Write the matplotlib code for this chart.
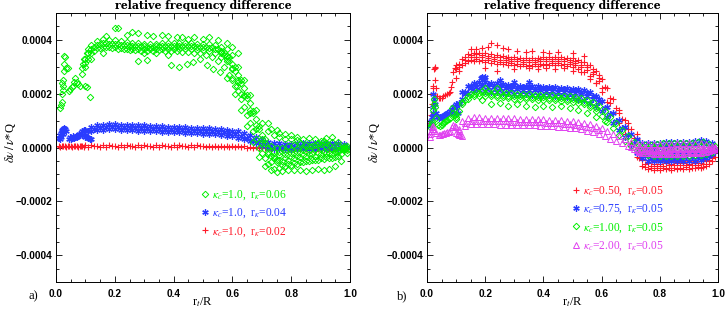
import numpy as np
import matplotlib.pyplot as plt
from matplotlib.lines import Line2D

plt.rcParams['mathtext.fontset'] = 'stix'

# two interleaved sets of mode positions r_t/R
grid_a = [0.10, 0.12, 0.14, 0.16, 0.18, 0.20, 0.22, 0.24, 0.26, 0.28,
          0.30, 0.32, 0.34, 0.36, 0.38, 0.40, 0.42, 0.44, 0.46, 0.48,
          0.50, 0.52, 0.54, 0.56, 0.58, 0.60, 0.62, 0.64, 0.66, 0.68,
          0.70, 0.72, 0.74, 0.76, 0.78, 0.80, 0.82, 0.84, 0.86, 0.88,
          0.90, 0.92, 0.94, 0.96, 0.98]
grid_b = [0.11, 0.13, 0.15, 0.17, 0.19, 0.21, 0.23, 0.25, 0.27, 0.29,
          0.31, 0.33, 0.35, 0.37, 0.39, 0.41, 0.43, 0.45, 0.47, 0.49,
          0.51, 0.53, 0.55, 0.57, 0.59, 0.61, 0.63, 0.65, 0.67, 0.69,
          0.71, 0.73, 0.75, 0.77, 0.79, 0.81, 0.83, 0.85, 0.87, 0.89,
          0.91, 0.93, 0.95, 0.97, 0.99]

# ---------------- panel a (values in units of 1e-4) ----------------
# kappa=1.0, r=0.06 (green)
ga_row1 = [3.3, 3.8, 3.95, 4.05, 4.0, 4.0, 3.95, 3.92, 3.9, 3.88,
           3.86, 3.85, 3.86, 3.88, 3.9, 3.9, 3.88, 3.87, 3.87, 3.86,
           3.85, 3.83, 3.8, 3.75, 3.65, 3.45, 3.0, 2.5, 1.95, 1.4,
           0.9, 0.6, 0.45, 0.38, 0.32, 0.3, 0.28, 0.3, 0.35, 0.3,
           0.25, 0.35, 0.4, 0.2, 0.05]
ga_row2 = [3.5, 3.75, 3.85, 3.88, 3.86, 3.84, 3.8, 3.78, 3.78, 3.76,
           3.75, 3.75, 3.76, 3.78, 3.78, 3.77, 3.76, 3.76, 3.76, 3.75,
           3.74, 3.72, 3.66, 3.55, 3.35, 3.0, 2.5, 1.95, 1.35, 0.8,
           0.3, 0.05, 0.0, 0.0, 0.05, 0.1, 0.15, 0.1, 0.05, 0.15,
           0.25, 0.1, -0.05, 0.0, 0.05]
ga_row3 = [3.0, 3.5, 3.7, 3.75, 3.75, 3.72, 3.7, 3.68, 3.68, 3.66,
           3.65, 3.65, 3.66, 3.68, 3.68, 3.67, 3.66, 3.65, 3.65, 3.64,
           3.62, 3.58, 3.5, 3.38, 3.2, 2.9, 2.45, 1.9, 1.3, 0.7,
           0.15, -0.25, -0.3, -0.28, -0.25, -0.2, -0.15, -0.1, -0.1, -0.05,
           0.0, 0.05, -0.05, -0.1, 0.0]
ga_row4 = [3.3, 3.6, 3.7, 3.72, 3.7, 3.68, 3.66, 3.64, 3.62, 3.6,
           3.6, 3.6, 3.62, 3.6, 3.6, 3.58, 3.56, 3.55, 3.52, 3.5,
           3.45, 3.35, 3.2, 3.0, 2.7, 2.3, 1.8, 1.2, 0.6, 0.0,
           -0.4, -0.55, -0.55, -0.5, -0.45, -0.4, -0.35, -0.3, -0.25, -0.2,
           -0.15, -0.2, -0.15, -0.05, 0.0]
ga_row5 = [2.6, 2.1, 1.5, 0.9, 0.3, -0.2, -0.6, -0.8, -0.75, -0.7,
           -0.65, -0.6, -0.55, -0.5, -0.45, -0.4, -0.35, -0.4, -0.3, -0.1]
ga_row6 = [2.0, 1.4, 0.8, 0.2, -0.35, -0.7, -0.85, -0.9, -0.88, -0.85,
           -0.85, -0.82, -0.88, -0.85, -0.8, -0.85, -0.8, -0.7, -0.5, -0.2]
ga_row7 = [3.15, 3.65, 3.82, 3.88, 3.86, 3.84, 3.82, 3.8, 3.79, 3.77,
           3.76, 3.75, 3.76, 3.78, 3.79, 3.78, 3.77, 3.76, 3.76, 3.75,
           3.74, 3.71, 3.65, 3.56, 3.42]
ga_row8 = [3.6, 3.4, 3.1, 2.7, 2.2, 1.65, 1.05, 0.45, 0.0, -0.15,
           -0.15, -0.12, -0.08, -0.05, 0.0, 0.05, 0.1, 0.12, 0.15, 0.2,
           0.1, 0.0]
ga_row9 = [3.45, 3.2, 2.85, 2.4, 1.85, 1.3, 0.7, 0.15, -0.3, -0.45,
           -0.65, -0.62, -0.58, -0.55, -0.5, -0.48, -0.45, -0.42, -0.4, -0.35,
           -0.25, -0.1]
ga_row10 = [3.5, 3.3, 2.95, 2.5, 1.95, 1.4, 0.85, 0.3, -0.15, -0.4,
            -0.45, -0.4, -0.35, -0.3, -0.28, -0.25, -0.3, -0.25, -0.2, -0.25,
            -0.15, -0.05]
ga_start_x = [0.014, 0.017, 0.020, 0.021, 0.024, 0.024, 0.025, 0.027, 0.028, 0.030,
              0.034, 0.040, 0.048, 0.054, 0.058, 0.065, 0.070, 0.075, 0.082, 0.088,
              0.090, 0.093, 0.096, 0.099, 0.106, 0.116, 0.105, 0.110, 0.120, 0.020,
              0.028, 0.044, 0.062]
ga_start_y = [1.47, 1.58, 1.69, 2.0, 2.13, 2.3, 2.5, 2.86, 3.1, 3.35,
              2.97, 2.97, 2.17, 2.24, 2.3, 2.57, 2.42, 2.35, 2.3, 2.75,
              2.94, 3.1, 3.3, 2.28, 2.24, 1.87, 3.5, 3.67, 3.3, 2.4,
              3.4, 2.1, 2.45]
ga_out_x = [0.17, 0.20, 0.21, 0.24, 0.26, 0.28, 0.31, 0.33, 0.36, 0.38,
            0.41, 0.43, 0.45, 0.47, 0.50, 0.52, 0.55, 0.58, 0.60, 0.62,
            0.16, 0.28, 0.30, 0.31, 0.34, 0.38, 0.39, 0.42, 0.445, 0.466,
            0.49, 0.513, 0.535, 0.558, 0.58, 0.60, 0.615, 0.63,
            0.72, 0.73, 0.75, 0.76, 0.78, 0.80, 0.82]
ga_out_y = [4.15, 4.45, 4.45, 4.2, 4.3, 4.25, 4.2, 4.15, 4.2, 4.15,
            4.1, 4.1, 4.05, 4.1, 4.05, 4.1, 4.0, 3.9, 3.75, 3.5,
            3.5, 3.23, 3.5, 3.26, 3.5, 3.45, 3.05, 3.0, 3.1, 3.16,
            3.3, 3.05, 2.93, 2.8, 2.6, 2.5, 2.3, 2.0,
            0.9, 0.7, 0.65, 0.55, 0.5, 0.45, 0.4]

# kappa=1.0, r=0.04 (blue)
ba_row1 = [0.65, 0.78, 0.83, 0.85, 0.86, 0.86, 0.85, 0.84, 0.84, 0.83,
           0.82, 0.81, 0.8, 0.79, 0.78, 0.77, 0.76, 0.75, 0.74, 0.73,
           0.72, 0.71, 0.7, 0.68, 0.66, 0.63, 0.6, 0.55, 0.48, 0.4,
           0.3, 0.22, 0.17, 0.15, 0.14, 0.14, 0.15, 0.15, 0.16, 0.16,
           0.17, 0.17, 0.16, 0.15, 0.12]
ba_row2 = [0.6, 0.7, 0.74, 0.76, 0.76, 0.76, 0.75, 0.74, 0.73, 0.72,
           0.71, 0.7, 0.69, 0.68, 0.67, 0.66, 0.65, 0.64, 0.63, 0.62,
           0.61, 0.6, 0.58, 0.56, 0.53, 0.49, 0.44, 0.37, 0.29, 0.2,
           0.12, 0.06, 0.03, 0.02, 0.02, 0.03, 0.04, 0.04, 0.05, 0.05,
           0.06, 0.05, 0.05, 0.03, 0.02]
ba_row3 = [0.45, 0.6, 0.64, 0.66, 0.67, 0.67, 0.66, 0.65, 0.64, 0.63,
           0.62, 0.61, 0.6, 0.59, 0.58, 0.57, 0.56, 0.55, 0.54, 0.53,
           0.52, 0.51, 0.49, 0.47, 0.44, 0.41, 0.36, 0.3, 0.23, 0.15,
           0.06, -0.02, -0.06, -0.07, -0.07, -0.06, -0.05, -0.05, -0.04, -0.04,
           -0.03, -0.04, -0.05, -0.06, -0.05]
ba_start_x = [0.010, 0.012, 0.013, 0.016, 0.018, 0.019, 0.022, 0.024, 0.025, 0.028,
              0.031, 0.034, 0.045, 0.048, 0.050, 0.055, 0.058, 0.060, 0.065, 0.068,
              0.070, 0.075, 0.078, 0.080, 0.085, 0.088, 0.090, 0.095, 0.100, 0.105,
              0.110, 0.115, 0.120]
ba_start_y = [0.35, 0.3, 0.45, 0.55, 0.4, 0.6, 0.65, 0.5, 0.7, 0.72,
              0.68, 0.6, 0.3, 0.4, 0.33, 0.35, 0.42, 0.36, 0.38, 0.44,
              0.4, 0.42, 0.5, 0.45, 0.55, 0.48, 0.62, 0.66, 0.4, 0.38,
              0.35, 0.33, 0.3]

# kappa=1.0, r=0.02 (red)
ra_row1 = [0.08, 0.08, 0.07, 0.08, 0.08, 0.07, 0.08, 0.08, 0.07, 0.08,
           0.08, 0.07, 0.08, 0.08, 0.07, 0.08, 0.08, 0.07, 0.08, 0.08,
           0.07, 0.07, 0.07, 0.06, 0.06, 0.05, 0.05, 0.04, 0.03, 0.02,
           0.0, -0.02, -0.03, -0.03, -0.03, -0.03, -0.03, -0.03, -0.03, -0.03,
           -0.03, -0.03, -0.03, -0.03, -0.03]
ra_row2 = [0.03, 0.04, 0.03, 0.03, 0.04, 0.03, 0.03, 0.04, 0.03, 0.03,
           0.04, 0.03, 0.03, 0.04, 0.03, 0.03, 0.04, 0.03, 0.03, 0.04,
           0.03, 0.03, 0.02, 0.02, 0.02, 0.01, 0.01, 0.0, -0.01, -0.02,
           -0.03, -0.05, -0.06, -0.06, -0.06, -0.06, -0.06, -0.06, -0.06, -0.06,
           -0.06, -0.06, -0.06, -0.06, -0.06]
ra_start_x = [0.010, 0.015, 0.020, 0.025, 0.030, 0.035, 0.040, 0.045, 0.050,
              0.055, 0.060, 0.065, 0.070, 0.075, 0.080, 0.085, 0.090, 0.095]
ra_start_y = [0.06, 0.03, 0.07, 0.04, 0.06, 0.03, 0.07, 0.04, 0.06,
              0.03, 0.07, 0.04, 0.06, 0.03, 0.07, 0.04, 0.06, 0.03]

# ---------------- panel b (values in units of 1e-4) ----------------
# kappa=0.50 (red)
rb_row1 = [2.9, 3.3, 3.48, 3.52, 3.52, 3.5, 3.46, 3.43, 3.41, 3.38,
           3.35, 3.33, 3.32, 3.32, 3.34, 3.36, 3.37, 3.37, 3.36, 3.34,
           3.31, 3.26, 3.18, 3.05, 2.85, 2.56, 2.2, 1.8, 1.4, 1.02,
           0.7, 0.3, -0.2, -0.45, -0.5, -0.5, -0.5, -0.5, -0.5, -0.5,
           -0.5, -0.5, -0.5, -0.45, -0.3]
rb_row2 = [3.0, 3.25, 3.35, 3.37, 3.36, 3.34, 3.3, 3.27, 3.25, 3.22,
           3.2, 3.18, 3.17, 3.18, 3.2, 3.21, 3.22, 3.22, 3.2, 3.18,
           3.14, 3.08, 2.98, 2.82, 2.58, 2.25, 1.85, 1.45, 1.05, 0.7,
           0.35, -0.2, -0.6, -0.68, -0.68, -0.68, -0.66, -0.66, -0.65, -0.66,
           -0.66, -0.65, -0.6, -0.45, -0.2]
rb_row3 = [2.6, 3.05, 3.2, 3.22, 3.21, 3.19, 3.15, 3.12, 3.1, 3.07,
           3.05, 3.03, 3.02, 3.02, 3.04, 3.06, 3.07, 3.07, 3.06, 3.04,
           3.0, 2.93, 2.82, 2.65, 2.4, 2.06, 1.68, 1.28, 0.9, 0.52,
           0.15, -0.35, -0.7, -0.8, -0.82, -0.82, -0.8, -0.82, -0.8, -0.8,
           -0.8, -0.78, -0.76, -0.7, -0.5]
rb_row4 = [3.1, 3.35, 3.45, 3.46, 3.45, 3.42, 3.38, 3.35, 3.33, 3.3,
           3.28, 3.26, 3.25, 3.26, 3.28, 3.29, 3.3, 3.3, 3.28, 3.26,
           3.22, 3.16, 3.06, 2.9, 2.68]
rb_row5 = [2.85, 3.15, 3.25, 3.28, 3.27, 3.25, 3.21, 3.18, 3.16, 3.13,
           3.11, 3.09, 3.08, 3.09, 3.11, 3.12, 3.13, 3.13, 3.11, 3.09,
           3.05, 2.98, 2.88, 2.72, 2.48]
rb_flat1 = [-0.4, -0.72, -0.78, -0.76, -0.76, -0.75, -0.76, -0.75, -0.74, -0.75,
            -0.74, -0.72, -0.6, -0.35]
rb_flat2 = [-0.45, -0.58, -0.6, -0.6, -0.58, -0.6, -0.58, -0.58, -0.6, -0.58,
            -0.56, -0.5, -0.4]
rb_start_x = [0.012, 0.015, 0.018, 0.020, 0.021, 0.022, 0.024, 0.026, 0.027, 0.028,
              0.030, 0.035, 0.040, 0.045, 0.050, 0.055, 0.062, 0.068, 0.074, 0.079,
              0.083, 0.086, 0.090, 0.095, 0.100]
rb_start_y = [0.9, 1.2, 1.6, 2.0, 2.3, 2.2, 2.9, 3.0, 2.94, 2.5,
              2.2, 1.9, 1.85, 1.83, 1.85, 1.9, 1.94, 2.0, 2.02, 2.05,
              2.25, 2.42, 2.8, 2.95, 3.05]
rb_out_x = [0.15, 0.17, 0.19, 0.21, 0.22, 0.24, 0.26, 0.28, 0.31, 0.34,
            0.36, 0.40, 0.42, 0.45, 0.50, 0.54,
            0.20, 0.24, 0.30, 0.35, 0.38, 0.41, 0.44, 0.47, 0.50, 0.53,
            0.56, 0.58, 0.60, 0.63, 0.66, 0.69, 0.72]
rb_out_y = [3.65, 3.65, 3.7, 3.75, 3.9, 3.8, 3.7, 3.65, 3.6, 3.55,
            3.6, 3.55, 3.5, 3.55, 3.5, 3.4,
            2.95, 2.85, 2.9, 2.95, 2.9, 2.95, 2.9, 2.95, 2.85, 2.8,
            2.55, 2.4, 2.2, 1.65, 1.3, 0.9, 0.5]

# kappa=0.75 (blue)
bb_row1 = [1.6, 2.05, 2.3, 2.4, 2.42, 2.42, 2.4, 2.38, 2.36, 2.34,
           2.32, 2.3, 2.29, 2.28, 2.27, 2.26, 2.25, 2.24, 2.22, 2.2,
           2.18, 2.16, 2.12, 2.06, 1.92, 1.74, 1.52, 1.28, 1.02, 0.76,
           0.5, 0.3, 0.18, 0.15, 0.15, 0.18, 0.2, 0.2, 0.2, 0.22,
           0.22, 0.25, 0.28, 0.25, 0.15]
bb_row2 = [1.6, 2.0, 2.2, 2.26, 2.27, 2.26, 2.24, 2.22, 2.2, 2.18,
           2.16, 2.15, 2.14, 2.13, 2.12, 2.11, 2.1, 2.08, 2.06, 2.04,
           2.02, 1.98, 1.92, 1.82, 1.68, 1.48, 1.25, 1.0, 0.72, 0.45,
           0.15, -0.1, -0.2, -0.22, -0.22, -0.2, -0.2, -0.2, -0.2, -0.18,
           -0.18, -0.15, -0.15, -0.15, -0.05]
bb_row3 = [1.3, 1.8, 2.02, 2.1, 2.12, 2.1, 2.08, 2.06, 2.04, 2.02,
           2.0, 1.99, 1.98, 1.97, 1.96, 1.95, 1.94, 1.92, 1.9, 1.88,
           1.86, 1.82, 1.76, 1.67, 1.54, 1.36, 1.14, 0.9, 0.65, 0.38,
           0.1, -0.2, -0.4, -0.5, -0.52, -0.52, -0.52, -0.52, -0.52, -0.5,
           -0.5, -0.5, -0.48, -0.4, -0.25]
bb_row4 = [1.65, 2.08, 2.3, 2.36, 2.37, 2.36, 2.34, 2.32, 2.3, 2.28,
           2.26, 2.25, 2.24, 2.23, 2.22, 2.21, 2.2, 2.18, 2.16, 2.14,
           2.12, 2.08, 2.02, 1.93, 1.8]
bb_flat1 = [0.0, -0.3, -0.38, -0.4, -0.4, -0.38, -0.38, -0.38, -0.36, -0.36,
            -0.35, -0.34, -0.3, -0.12]
bb_flat2 = [0.0, 0.0, 0.02, 0.05, 0.05, 0.05, 0.08, 0.08, 0.1, 0.12,
            0.15, 0.12, 0.05]
bb_start_x = [0.012, 0.015, 0.017, 0.019, 0.021, 0.021, 0.024, 0.027, 0.030, 0.035,
              0.040, 0.045, 0.050, 0.055, 0.060, 0.065, 0.069, 0.074, 0.078, 0.082,
              0.086, 0.090, 0.095, 0.100, 0.105]
bb_start_y = [0.8, 1.0, 1.14, 1.3, 1.5, 2.0, 1.8, 1.6, 1.3, 1.15,
              1.1, 1.14, 1.15, 1.18, 1.2, 1.25, 1.28, 1.3, 1.35, 1.3,
              1.4, 1.5, 1.55, 1.45, 1.3]
bb_out_x = [0.185, 0.19, 0.195, 0.20, 0.30, 0.35, 0.25]
bb_out_y = [2.6, 2.63, 2.6, 2.62, 2.45, 2.42, 2.5]

# kappa=1.00 (green)
gb_row1 = [1.35, 1.75, 1.98, 2.08, 2.1, 2.1, 2.08, 2.06, 2.04, 2.02,
           2.0, 1.99, 1.98, 1.97, 1.96, 1.95, 1.94, 1.93, 1.92, 1.9,
           1.88, 1.84, 1.78, 1.68, 1.54, 1.36, 1.14, 0.9, 0.65, 0.42,
           0.22, 0.1, 0.08, 0.1, 0.12, 0.15, 0.15, 0.15, 0.18, 0.18,
           0.18, 0.2, 0.2, 0.12, 0.05]
gb_row2 = [1.15, 1.6, 1.82, 1.9, 1.92, 1.92, 1.9, 1.88, 1.86, 1.84,
           1.82, 1.81, 1.8, 1.79, 1.78, 1.77, 1.76, 1.75, 1.74, 1.72,
           1.7, 1.66, 1.6, 1.5, 1.36, 1.18, 0.96, 0.72, 0.48, 0.25,
           0.05, -0.1, -0.22, -0.28, -0.3, -0.3, -0.3, -0.3, -0.3, -0.3,
           -0.3, -0.28, -0.28, -0.25, -0.15]
gb_row3 = [1.25, 1.68, 1.9, 1.99, 2.01, 2.01, 1.99, 1.97, 1.95, 1.93,
           1.91, 1.9, 1.89, 1.88, 1.87, 1.86, 1.85, 1.84, 1.83, 1.81,
           1.79, 1.75, 1.69, 1.59, 1.45]
gb_flat1 = [-0.05, -0.15, -0.18, -0.18, -0.18, -0.17, -0.17, -0.16, -0.16, -0.15,
            -0.15, -0.14, -0.12, -0.05]
gb_flat2 = [-0.05, -0.05, -0.02, 0.0, 0.02, 0.02, 0.04, 0.04, 0.05, 0.06,
            0.06, 0.04, 0.02]
gb_start_x = [0.012, 0.015, 0.017, 0.018, 0.021, 0.023, 0.025, 0.028, 0.032, 0.038,
              0.045, 0.050, 0.055, 0.060, 0.065, 0.070, 0.075, 0.080, 0.086, 0.090,
              0.095, 0.100]
gb_start_y = [0.75, 0.85, 0.95, 0.86, 1.4, 1.6, 1.8, 1.5, 1.1, 0.85,
              0.8, 0.85, 0.9, 0.95, 1.0, 1.02, 1.05, 1.1, 1.47, 1.3,
              1.2, 1.05]
gb_out_x = [0.19, 0.22, 0.25, 0.28, 0.31, 0.34, 0.37, 0.40, 0.43, 0.46,
            0.49, 0.52, 0.55, 0.58, 0.61, 0.20, 0.24]
gb_out_y = [1.75, 1.6, 1.65, 1.55, 1.6, 1.55, 1.5, 1.55, 1.5, 1.55,
            1.45, 1.4, 1.3, 1.15, 1.0, 2.2, 2.2]

# kappa=2.00 (magenta)
mb_row1 = [0.75, 0.98, 1.1, 1.12, 1.12, 1.1, 1.1, 1.09, 1.09, 1.08,
           1.08, 1.07, 1.07, 1.06, 1.05, 1.05, 1.04, 1.03, 1.02, 1.0,
           0.98, 0.95, 0.91, 0.86, 0.8, 0.72, 0.6, 0.5, 0.42, 0.32,
           0.2, 0.12, 0.12, 0.12, 0.12, 0.12, 0.14, 0.14, 0.15, 0.15,
           0.15, 0.16, 0.16, 0.12, 0.06]
mb_row2 = [0.62, 0.8, 0.88, 0.88, 0.87, 0.86, 0.86, 0.85, 0.85, 0.84,
           0.84, 0.83, 0.83, 0.82, 0.81, 0.8, 0.79, 0.78, 0.76, 0.74,
           0.71, 0.67, 0.63, 0.59, 0.52, 0.42, 0.32, 0.24, 0.16, 0.06,
           -0.04, -0.12, -0.14, -0.14, -0.14, -0.14, -0.13, -0.13, -0.13, -0.13,
           -0.12, -0.12, -0.1, -0.06, 0.0]
mb_row3 = [0.02, -0.1, -0.2, -0.22, -0.24, -0.24, -0.24, -0.24, -0.24, -0.24,
           -0.22, -0.22, -0.2, -0.15, -0.08]
mb_row4 = [0.7, 0.9, 0.99, 1.0, 1.0, 0.98, 0.98, 0.97, 0.97, 0.96,
           0.96, 0.95, 0.95, 0.94, 0.93, 0.92, 0.91, 0.9, 0.89, 0.87,
           0.85, 0.81, 0.77, 0.72, 0.66]
mb_flat1 = [0.05, -0.02, -0.04, -0.04, -0.04, -0.03, -0.03, -0.03, -0.02, -0.02,
            -0.02, -0.01, 0.0, 0.02]
mb_flat2 = [-0.05, -0.08, -0.08, -0.08, -0.08, -0.07, -0.07, -0.07, -0.06, -0.06,
            -0.05, -0.04, -0.02]
mb_flat3 = [-0.15, -0.22, -0.2, -0.2, -0.2, -0.2, -0.2, -0.19, -0.19, -0.18,
            -0.17, -0.16, -0.12, -0.05]
mb_start_x = [0.010, 0.012, 0.015, 0.017, 0.020, 0.022, 0.025, 0.030, 0.040, 0.045,
              0.050, 0.055, 0.060, 0.065, 0.070, 0.075, 0.080, 0.085, 0.090, 0.095,
              0.100, 0.105, 0.110, 0.113, 0.120]
mb_start_y = [0.4, 0.5, 0.6, 0.75, 0.8, 0.7, 0.6, 0.55, 0.45, 0.48,
              0.5, 0.52, 0.53, 0.55, 0.56, 0.57, 0.6, 0.75, 0.85, 0.8,
              0.55, 0.5, 0.47, 0.48, 0.42]

labels_a = [r'$\kappa_c$=1.0,  r$_\kappa$=0.06',
            r'$\kappa_c$=1.0,  r$_\kappa$=0.04',
            r'$\kappa_c$=1.0,  r$_\kappa$=0.02']
labels_b = [r'$\kappa_c$=0.50,  r$_\kappa$=0.05',
            r'$\kappa_c$=0.75,  r$_\kappa$=0.05',
            r'$\kappa_c$=1.00,  r$_\kappa$=0.05',
            r'$\kappa_c$=2.00,  r$_\kappa$=0.05']

GREEN = '#00f000'
BLUE = '#2a3cff'
RED = '#ff1a2a'
MAGENTA = '#e040f0'

STYLE = {
    'D': dict(marker='D', ms=3.3, mfc='none', mew=0.7),
    '*': dict(marker=(6, 2, 0), ms=4.6, mew=0.9),
    '+': dict(marker='+', ms=4.8, mew=0.8),
    '^': dict(marker='^', ms=3.9, mfc='none', mew=0.7),
}


def draw(ax, branches, color, mk):
    for x, y in branches:
        ax.plot(np.array(x), np.array(y) * 1e-4, linestyle='none',
                color=color, mec=color, **STYLE[mk])


def setup(ax):
    ax.set_xlim(0.0, 1.0)
    ax.set_ylim(-0.0005, 0.0005)
    ax.set_xticks([0.0, 0.2, 0.4, 0.6, 0.8, 1.0])
    ax.set_xticks(np.arange(0, 1.0001, 0.05), minor=True)
    ax.set_yticks([-0.0004, -0.0002, 0.0, 0.0002, 0.0004])
    ax.set_yticks(np.arange(-0.0005, 0.00050001, 0.00005), minor=True)
    ax.set_xticklabels(['0.0', '0.2', '0.4', '0.6', '0.8', '1.0'])
    ax.set_yticklabels(['\u22120.0004', '\u22120.0002', '0.0000', '0.0002', '0.0004'])
    ax.tick_params(which='both', direction='in', top=True, right=True, width=0.6)
    ax.tick_params(which='major', length=4.5)
    ax.tick_params(which='minor', length=2.2)
    ax.tick_params(axis='x', pad=5)
    ax.tick_params(axis='y', pad=2.5)
    for lab in ax.get_xticklabels() + ax.get_yticklabels():
        lab.set_family('Liberation Sans')
        lab.set_weight('bold')
        lab.set_size(7.3)
    for s in ax.spines.values():
        s.set_linewidth(0.7)
    ax.set_title('relative frequency difference', family='DejaVu Serif',
                 weight='bold', size=7.8, pad=3)
    ax.set_xlabel(r'r$_t$/R', family='Liberation Serif', size=9)
    ax.xaxis.set_label_coords(0.5, -0.05)
    ax.set_ylabel(r'$\delta\nu\,/\,\nu$*Q', family='Liberation Serif', size=9)


def legend(ax, labels, colors, marks, anchor):
    handles = [Line2D([], [], linestyle='none', color=c, mec=c, **STYLE[m])
               for c, m in zip(colors, marks)]
    leg = ax.legend(handles, labels, loc='upper left', bbox_to_anchor=anchor,
                    frameon=False, handlelength=0.5, handletextpad=0.4,
                    labelspacing=0.42, borderaxespad=0,
                    prop={'family': 'Liberation Serif', 'size': 8.3})
    for t, c in zip(leg.get_texts(), colors):
        t.set_color(c)


def main():
    fig = plt.figure(figsize=(7.27, 3.09), dpi=100)
    ax1 = fig.add_axes([56 / 727, 27 / 309, 294 / 727, 269 / 309])
    ax2 = fig.add_axes([427 / 727, 27 / 309, 291 / 727, 269 / 309])

    # panel a
    draw(ax1, [(ra_start_x, ra_start_y), (grid_a, ra_row1), (grid_b, ra_row2)], RED, '+')
    draw(ax1, [(ba_start_x, ba_start_y), (grid_a, ba_row1), (grid_b, ba_row2),
               (grid_a, ba_row3)], BLUE, '*')
    draw(ax1, [(ga_start_x, ga_start_y), (grid_a, ga_row1), (grid_b, ga_row2),
               (grid_a, ga_row3), (grid_b, ga_row4), (grid_a[25:], ga_row5),
               (grid_b[25:], ga_row6), (grid_a[:25], ga_row7),
               (grid_a[23:], ga_row8), (grid_b[23:], ga_row9), (grid_a[23:], ga_row10),
               (ga_out_x, ga_out_y)], GREEN, 'D')

    # panel b
    draw(ax2, [(rb_start_x, rb_start_y), (grid_a, rb_row1), (grid_b, rb_row2),
               (grid_a, rb_row3), (grid_b[:25], rb_row4), (grid_b[:25], rb_row5),
               (grid_b[31:], rb_flat1), (grid_a[32:], rb_flat2),
               (rb_out_x, rb_out_y)], RED, '+')
    draw(ax2, [(bb_start_x, bb_start_y), (grid_a, bb_row1), (grid_b, bb_row2),
               (grid_a, bb_row3), (grid_b[:25], bb_row4), (grid_b[31:], bb_flat1),
               (grid_a[32:], bb_flat2), (bb_out_x, bb_out_y)], BLUE, '*')
    draw(ax2, [(gb_start_x, gb_start_y), (grid_b, gb_row1), (grid_a, gb_row2),
               (grid_a[:25], gb_row3), (grid_b[31:], gb_flat1), (grid_a[32:], gb_flat2),
               (gb_out_x, gb_out_y)], GREEN, 'D')
    draw(ax2, [(mb_start_x, mb_start_y), (grid_a, mb_row1), (grid_b, mb_row2),
               (grid_a[30:], mb_row3), (grid_b[:25], mb_row4), (grid_b[31:], mb_flat1),
               (grid_a[32:], mb_flat2), (grid_b[31:], mb_flat3)], MAGENTA, '^')

    setup(ax1)
    setup(ax2)
    ax1.yaxis.set_label_coords(-0.13, 0.52)
    ax2.yaxis.set_label_coords(-0.155, 0.52)

    legend(ax1, labels_a, [GREEN, BLUE, RED], ['D', '*', '+'], (0.48, 0.365))
    legend(ax2, labels_b, [RED, BLUE, GREEN, MAGENTA], ['+', '*', 'D', '^'], (0.485, 0.38))

    fig.text(33 / 727, 1 - 296 / 309, 'a)', family='Liberation Serif', size=9, ha='center', va='center')
    fig.text(402 / 727, 1 - 296 / 309, 'b)', family='Liberation Serif', size=9, ha='center', va='center')

    fig.savefig('out.png', dpi=100)


if __name__ == "__main__":
    main()
